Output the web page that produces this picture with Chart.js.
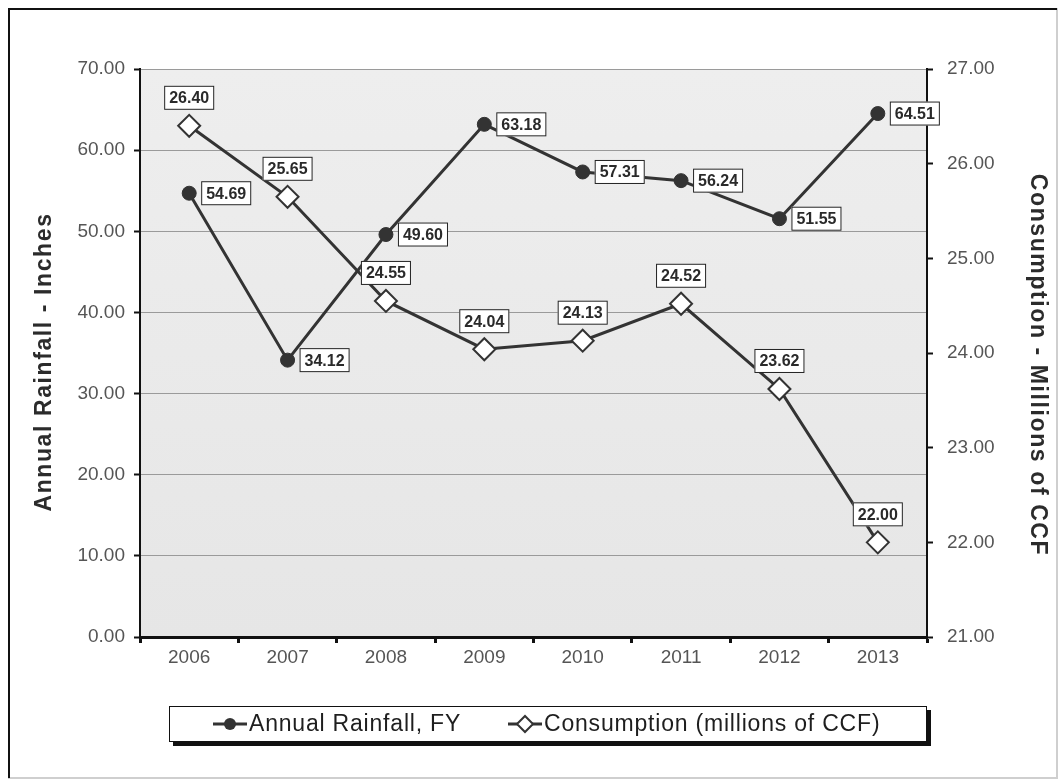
<!DOCTYPE html>
<html lang="en">
<head>
<meta charset="UTF-8">
<title>Annual Rainfall and Consumption</title>
<script src="https://cdn.jsdelivr.net/npm/chart.js"></script>
<style>
  body { margin: 0; background: #fff; }
  #wrap { width: 1062px; height: 782px; }
</style>
</head>
<body>
<div id="wrap"><canvas id="rainChart" width="1062" height="782"></canvas></div>
<script>
// fiscal years and the two series
const years = ['2006', '2007', '2008', '2009', '2010', '2011', '2012', '2013'];
const rainfall = [54.69, 34.12, 49.60, 63.18, 57.31, 56.24, 51.55, 64.51];
const consumption = [26.40, 25.65, 24.55, 24.04, 24.13, 24.52, 23.62, 22.00];

const seriesNames = ['Annual Rainfall, FY', 'Consumption (millions of CCF)'];
const axisTitles = ['Annual Rainfall - Inches', 'Consumption - Millions of CCF'];

// [min, max, step] for each value axis
const rainRange = [0, 70, 10];
const ccfRange = [21, 27, 1];

const INK = '#333333';
const TICK_FONT = { family: 'Arial, "Liberation Sans", sans-serif', size: 19 };

function diamond(ctx, x, y, r) {
    ctx.beginPath();
    ctx.moveTo(x - r, y);
    ctx.lineTo(x, y - r);
    ctx.lineTo(x + r, y);
    ctx.lineTo(x, y + r);
    ctx.closePath();
}

// grey plot area + outer frame
const backdrop = {
    id: 'backdrop',
    beforeDraw(chart) {
        const { ctx, chartArea: a } = chart;
        ctx.save();
        ctx.fillStyle = '#fff';
        ctx.fillRect(0, 0, chart.width, chart.height);
        const g = ctx.createLinearGradient(0, a.top, 0, a.bottom);
        g.addColorStop(0, '#eeeeee');
        g.addColorStop(1, '#e6e6e6');
        ctx.fillStyle = g;
        ctx.fillRect(a.left, a.top, a.right - a.left, a.bottom - a.top);
        // frame: dark on top/left, light on bottom/right
        ctx.lineWidth = 2;
        ctx.strokeStyle = '#cfcfcf';
        ctx.strokeRect(9, 9, chart.width - 14, chart.height - 13);
        ctx.strokeStyle = '#111';
        ctx.beginPath();
        ctx.moveTo(9, chart.height - 4);
        ctx.lineTo(9, 9);
        ctx.lineTo(chart.width - 5, 9);
        ctx.stroke();
        ctx.restore();
    }
};

// boxed value labels: rainfall to the right, consumption above
const valueLabels = {
    id: 'valueLabels',
    afterDatasetsDraw(chart) {
        const { ctx } = chart;
        ctx.save();
        ctx.font = 'bold 16px Arial, "Liberation Sans", sans-serif';
        ctx.textBaseline = 'middle';
        ctx.textAlign = 'center';
        chart.data.datasets.forEach((ds, di) => {
            chart.getDatasetMeta(di).data.forEach((pt, i) => {
                const txt = ds.data[i].toFixed(2);
                const w = ctx.measureText(txt).width + 10;
                const h = 24;
                let x, y;
                if (di === 0) {
                    x = pt.x + 12;
                    y = pt.y - h / 2;
                } else {
                    x = pt.x - w / 2;
                    y = pt.y - 16 - h;
                }
                ctx.fillStyle = '#fff';
                ctx.fillRect(x, y, w, h);
                ctx.lineWidth = 1;
                ctx.strokeStyle = '#222';
                ctx.strokeRect(x + 0.5, y + 0.5, w - 1, h - 1);
                ctx.fillStyle = '#2a2a2a';
                ctx.fillText(txt, x + w / 2, y + h / 2 + 1);
            });
        });
        ctx.restore();
    }
};

// rotated axis titles and the boxed legend under the plot
const furniture = {
    id: 'furniture',
    afterDraw(chart) {
        const { ctx, chartArea: a } = chart;
        ctx.save();
        ctx.fillStyle = '#2b2b2b';
        ctx.font = 'bold 23px Arial, "Liberation Sans", sans-serif';
        ctx.letterSpacing = '1.6px';
        ctx.textAlign = 'center';
        ctx.textBaseline = 'middle';
        const midY = (a.top + a.bottom) / 2 + 9;

        ctx.save();
        ctx.translate(45, midY);
        ctx.rotate(-Math.PI / 2);
        ctx.fillText(axisTitles[0], 0, 0);
        ctx.restore();

        ctx.save();
        ctx.translate(1037, midY + 3);
        ctx.rotate(Math.PI / 2);
        ctx.fillText(axisTitles[1], 0, 0);
        ctx.restore();

        // legend box with drop shadow
        const bx = 169, by = 706, bw = 758, bh = 36;
        ctx.fillStyle = '#111';
        ctx.fillRect(bx + 4, by + 4, bw, bh);
        ctx.fillStyle = '#fff';
        ctx.fillRect(bx, by, bw, bh);
        ctx.lineWidth = 1;
        ctx.strokeStyle = '#111';
        ctx.strokeRect(bx + 0.5, by + 0.5, bw - 1, bh - 1);

        const cy = by + bh / 2;
        const items = [
            { x: 213, marker: 'dot' },
            { x: 508, marker: 'diamond' }
        ];
        ctx.font = '23px Arial, "Liberation Sans", sans-serif';
        ctx.letterSpacing = '0.8px';
        ctx.textAlign = 'left';
        items.forEach((it, i) => {
            ctx.strokeStyle = INK;
            ctx.lineWidth = 3;
            ctx.beginPath();
            ctx.moveTo(it.x, cy);
            ctx.lineTo(it.x + 34, cy);
            ctx.stroke();
            if (it.marker === 'dot') {
                ctx.fillStyle = INK;
                ctx.beginPath();
                ctx.arc(it.x + 17, cy, 6, 0, Math.PI * 2);
                ctx.fill();
            } else {
                diamond(ctx, it.x + 17, cy, 8);
                ctx.fillStyle = '#fff';
                ctx.fill();
                ctx.lineWidth = 2;
                ctx.stroke();
            }
            ctx.fillStyle = '#1e1e1e';
            ctx.fillText(seriesNames[i], it.x + 36, cy + 1);
        });
        ctx.restore();
    }
};

const ctx = document.getElementById('rainChart').getContext('2d');
new Chart(ctx, {
    type: 'line',
    data: {
        labels: years,
        datasets: [
            {
                label: seriesNames[0],
                data: rainfall,
                yAxisID: 'y',
                borderColor: INK,
                borderWidth: 3,
                pointStyle: 'circle',
                pointRadius: 7,
                pointBackgroundColor: INK,
                pointBorderColor: INK,
                pointBorderWidth: 1,
                tension: 0
            },
            {
                label: seriesNames[1],
                data: consumption,
                yAxisID: 'y1',
                borderColor: INK,
                borderWidth: 3,
                pointStyle: 'rectRot',
                pointRadius: 11,
                pointBackgroundColor: '#fff',
                pointBorderColor: INK,
                pointBorderWidth: 2,
                tension: 0
            }
        ]
    },
    options: {
        responsive: false,
        animation: false,
        layout: { padding: { top: 69, bottom: 0, left: 0, right: 0 } },
        plugins: {
            legend: { display: false },
            tooltip: { enabled: false }
        },
        scales: {
            x: {
                offset: true,
                afterFit: s => { s.height = 145; },
                grid: {
                    offset: true,
                    drawOnChartArea: false,
                    tickLength: 6,
                    tickColor: '#111',
                    tickWidth: 3
                },
                border: { color: '#111', width: 3 },
                ticks: { font: TICK_FONT, color: '#555', padding: 3 }
            },
            y: {
                position: 'left',
                min: rainRange[0],
                max: rainRange[1],
                afterFit: s => { s.width = 140; },
                grid: {
                    color: '#9a9a9a',
                    lineWidth: 1,
                    tickLength: 6,
                    tickColor: '#111',
                    tickWidth: 2
                },
                border: { color: '#111', width: 2 },
                ticks: {
                    stepSize: rainRange[2],
                    font: TICK_FONT,
                    color: '#555',
                    padding: 9,
                    callback: v => v.toFixed(2)
                }
            },
            y1: {
                position: 'right',
                min: ccfRange[0],
                max: ccfRange[1],
                afterFit: s => { s.width = 135; },
                grid: {
                    drawOnChartArea: false,
                    tickLength: 6,
                    tickColor: '#111',
                    tickWidth: 2
                },
                border: { color: '#111', width: 2 },
                ticks: {
                    stepSize: ccfRange[2],
                    font: TICK_FONT,
                    color: '#555',
                    padding: 14,
                    callback: v => v.toFixed(2)
                }
            }
        }
    },
    plugins: [backdrop, valueLabels, furniture]
});
</script>
</body>
</html>
